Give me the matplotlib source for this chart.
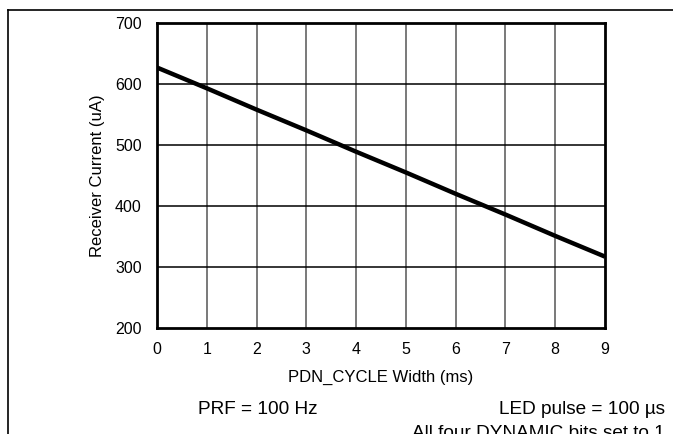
import matplotlib.pyplot as plt
from matplotlib.lines import Line2D

plt.rcParams['font.family'] = ['Liberation Sans', 'DejaVu Sans']

# PDN_CYCLE width (ms) vs receiver current (uA)
width_ms = [0, 1, 2, 3, 4, 5, 6, 7, 8, 9]
current_ua = [627, 593, 558, 524, 489, 455, 420, 386, 351, 317]

x_ticks = [0, 1, 2, 3, 4, 5, 6, 7, 8, 9]
y_ticks = [200, 300, 400, 500, 600, 700]

fig = plt.figure(figsize=(6.73, 4.34), dpi=100)
W, H = 673, 434
ax = fig.add_axes([157 / W, 1 - 328 / H, (605 - 157) / W, (328 - 23) / H])

ax.plot(width_ms, current_ua, color='black', linewidth=3.2, solid_capstyle='butt', zorder=3)

ax.set_xlim(0, 9)
ax.set_ylim(200, 700)
ax.set_xticks(x_ticks)
ax.set_yticks(y_ticks)
ax.tick_params(length=0, labelsize=11.5)
ax.tick_params(axis='x', pad=10)
ax.tick_params(axis='y', pad=11)
for x in x_ticks[1:-1]:
    ax.axvline(x, color='#555555', linewidth=1.1, zorder=1)
for y in y_ticks[1:-1]:
    ax.axhline(y, color='black', linewidth=1.1, zorder=1)
for s in ax.spines.values():
    s.set_linewidth(2)

ax.set_xlabel('PDN_CYCLE Width (ms)', fontsize=12, labelpad=9)
ax.set_ylabel('Receiver Current (uA)', fontsize=12, labelpad=7)

# frame lines around the figure
fig.add_artist(Line2D([8 / W, 1], [1 - 10 / H, 1 - 10 / H], color='black', linewidth=1.2))
fig.add_artist(Line2D([8 / W, 8 / W], [0, 1 - 10 / H], color='black', linewidth=1.2))

fig.text(258 / W, 1 - 410 / H, 'PRF = 100 Hz', fontsize=13.7, ha='center', va='center')
fig.text(665 / W, 1 - 410 / H, 'LED pulse = 100 µs', fontsize=13.7, ha='right', va='center')
fig.text(665 / W, 1 - 433 / H, 'All four DYNAMIC bits set to 1', fontsize=13.7, ha='right', va='center')

fig.savefig('out.png', dpi=100)
